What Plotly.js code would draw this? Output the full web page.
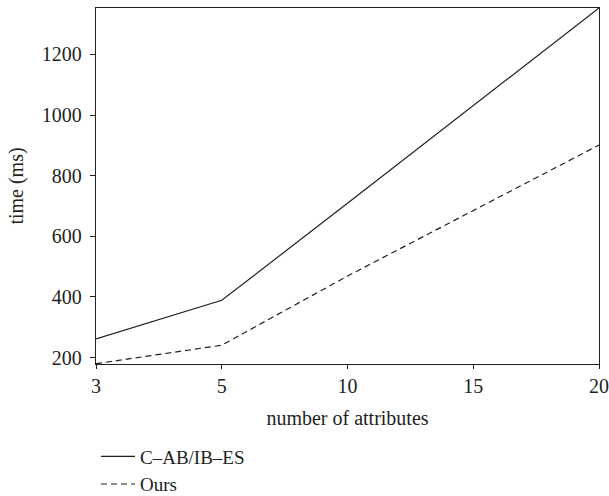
<!DOCTYPE html>
<html>
<head>
<meta charset="utf-8">
<script src="https://cdn.plot.ly/plotly-3.0.1.min.js"></script>
<style>html,body{margin:0;padding:0;background:#fff;}</style>
</head>
<body>
<div id="chart" style="width:609px;height:496px;"></div>
<script>
const categories = ['3', '5', '10', '15', '20'];
const seriesNames = ['C\u2013AB/IB\u2013ES', 'Ours'];
const cabValues = [262, 389, 709, 1030, 1353];
const oursValues = [180, 241, 469, 684, 901];
const yTicks = [200, 400, 600, 800, 1000, 1200];

const ink = '#231f20';
const fontFam = '"Liberation Serif", "DejaVu Serif", serif';
const fs = 20;

const traces = [
  {x: categories, y: cabValues, name: seriesNames[0], type: 'scatter', mode: 'lines',
   line: {color: ink, width: 1.2}},
  {x: categories, y: oursValues, name: seriesNames[1], type: 'scatter', mode: 'lines',
   line: {color: ink, width: 1.2, dash: '6px,4px'}}
];

const layout = {
  width: 609, height: 496,
  margin: {l: 95.5, r: 10, t: 8, b: 132, autoexpand: false},
  paper_bgcolor: '#fff', plot_bgcolor: '#fff',
  font: {family: fontFam, size: fs, color: ink},
  showlegend: true,
  legend: {x: 0, xanchor: 'left', y: 0.118, yref: 'container', yanchor: 'top', orientation: 'v',
           font: {family: fontFam, size: 19, color: ink}, bgcolor: 'rgba(0,0,0,0)',
           tracegroupgap: 0, itemwidth: 34},
  xaxis: {
    type: 'category', range: [0, 4], showgrid: false, zeroline: false,
    showline: true, linecolor: ink, linewidth: 1.2, mirror: true,
    ticks: 'outside', ticklen: 4, tickcolor: ink, tickwidth: 1,
    tickfont: {family: fontFam, size: fs, color: ink},
    title: {text: 'number of attributes', font: {family: fontFam, size: fs, color: ink}, standoff: 14}
  },
  yaxis: {
    range: [179, 1353], showgrid: false, zeroline: false,
    tickvals: yTicks, ticktext: yTicks.map(String),
    showline: true, linecolor: ink, linewidth: 1.2, mirror: true,
    ticks: 'outside', ticklen: 5, tickcolor: ink, tickwidth: 1, ticklabelstandoff: 4,
    tickfont: {family: fontFam, size: fs, color: ink},
    title: {text: 'time (ms)', font: {family: fontFam, size: fs, color: ink}, standoff: 12}
  }
};

Plotly.newPlot('chart', traces, layout, {displayModeBar: false, staticPlot: true});
</script>
</body>
</html>
